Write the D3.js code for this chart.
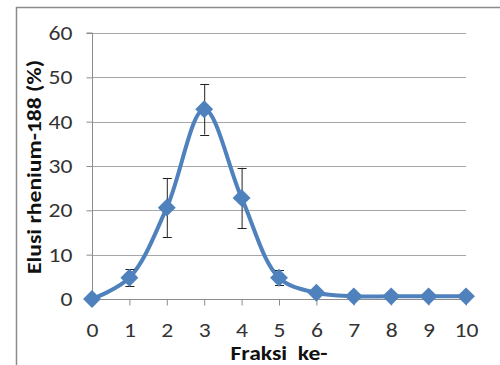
<!DOCTYPE html>
<html>
<head>
<meta charset="utf-8">
<script src="https://cdnjs.cloudflare.com/ajax/libs/d3/7.8.5/d3.min.js"></script>
<style>
  body { margin: 0; background: #fff; }
  svg { display: block; }
</style>
</head>
<body>
<div id="chart"></div>
<script>
/* Data */
const fractions = [0, 1, 2, 3, 4, 5, 6, 7, 8, 9, 10]
const elution = [0, 4.8, 20.6, 42.8, 22.8, 4.8, 1.4, 0.6, 0.6, 0.6, 0.6]
const errors = [0, 1.9, 6.7, 5.7, 6.8, 1.7, 0, 0, 0, 0, 0]
const yTicks = [0, 10, 20, 30, 40, 50, 60]
const xTicks = [0, 1, 2, 3, 4, 5, 6, 7, 8, 9, 10]

/* Constants */
const WIDTH = 500
const HEIGHT = 365
const PLOT = {"left": 92, "right": 466, "top": 33, "bottom": 299}
const LINE_COLOR = "#4F81BD"
const FONT = "Carlito, Calibri, 'Liberation Sans', 'DejaVu Sans', sans-serif"
const STRETCH = 1.18

const svg = d3.select("#chart")
              .append("svg")
              .attr("width", WIDTH)
              .attr("height", HEIGHT);

/* Outer frame */
svg.append("path")
   .attr("d", "M16.5," + HEIGHT + "V7.5H" + WIDTH)
   .attr("fill", "none")
   .attr("stroke", "#8c8c8c")
   .attr("stroke-width", 1.5);

const xScale = d3.scaleLinear().domain([0, 10]).range([PLOT.left, PLOT.right]);
const yScale = d3.scaleLinear().domain([0, 60]).range([PLOT.bottom, PLOT.top]);

/* Gridlines */
svg.append("g")
   .selectAll("line")
   .data(yTicks.filter(d => d > 0))
   .enter()
   .append("line")
   .attr("x1", PLOT.left)
   .attr("x2", PLOT.right)
   .attr("y1", d => Math.round(yScale(d)) + 0.5)
   .attr("y2", d => Math.round(yScale(d)) + 0.5)
   .attr("stroke", "#a6a6a6")
   .attr("stroke-width", 1);

/* Axes */
const yAxis = d3.axisLeft(yScale).tickValues(yTicks).tickSize(6);
const xAxis = d3.axisBottom(xScale).tickValues(xTicks).tickSize(6);
const gy = svg.append("g")
              .attr("transform", "translate(" + (PLOT.left + 0.5) + ",0)")
              .call(yAxis);
const gx = svg.append("g")
              .attr("transform", "translate(0," + (PLOT.bottom + 0.5) + ")")
              .call(xAxis);
[gx, gy].forEach(g => {
  g.select(".domain").attr("stroke", "#8c8c8c").attr("stroke-width", 1);
  g.selectAll(".tick line").attr("stroke", "#8c8c8c");
  g.selectAll("text").attr("font-family", FONT).attr("font-size", 20).attr("fill", "#333");
});
gy.selectAll(".tick text")
  .attr("x", null)
  .attr("transform", "translate(-20,0) scale(" + STRETCH + ",1)");
gx.selectAll(".tick text")
  .attr("y", null)
  .attr("dy", null)
  .attr("transform", "translate(0,37) scale(" + STRETCH + ",1)");
gy.select(".domain").attr("d", "M-6," + PLOT.top + "H0V" + PLOT.bottom + "H-6");
gx.select(".domain").attr("d", "M" + PLOT.left + ",0H" + PLOT.right);

/* Axis titles */
svg.append("text")
   .attr("transform", "translate(279,360) scale(" + STRETCH + ",1)")
   .attr("text-anchor", "middle")
   .attr("font-family", FONT)
   .attr("font-weight", "bold")
   .attr("font-size", 20)
   .attr("fill", "#111")
   .attr("xml:space", "preserve")
   .text("Fraksi  ke-");
svg.append("text")
   .attr("transform", "translate(41,167) rotate(-90) scale(" + STRETCH + ",1)")
   .attr("text-anchor", "middle")
   .attr("font-family", FONT)
   .attr("font-weight", "bold")
   .attr("font-size", 20)
   .attr("fill", "#111")
   .text("Elusi rhenium-188 (%)");

const points = fractions.map((f, i) => ({"x": f, "y": elution[i], "e": errors[i]}));

/* Smoothed line */
const line = d3.line()
               .x(d => xScale(d.x))
               .y(d => yScale(d.y))
               .curve(d3.curveCatmullRom.alpha(0.5));
svg.append("path")
   .datum(points)
   .attr("d", line)
   .attr("fill", "none")
   .attr("stroke", LINE_COLOR)
   .attr("stroke-width", 4)
   .attr("stroke-linejoin", "round");

/* Error bars */
const bars = svg.append("g")
                .selectAll("g")
                .data(points.filter(d => d.e > 0))
                .enter()
                .append("g")
                .attr("stroke", "#222")
                .attr("stroke-width", 1);
bars.append("line")
    .attr("x1", d => xScale(d.x) + 0.5)
    .attr("x2", d => xScale(d.x) + 0.5)
    .attr("y1", d => yScale(d.y + d.e))
    .attr("y2", d => yScale(d.y - d.e));
bars.append("line")
    .attr("x1", d => xScale(d.x) - 4)
    .attr("x2", d => xScale(d.x) + 5)
    .attr("y1", d => Math.round(yScale(d.y + d.e)) + 0.5)
    .attr("y2", d => Math.round(yScale(d.y + d.e)) + 0.5);
bars.append("line")
    .attr("x1", d => xScale(d.x) - 4)
    .attr("x2", d => xScale(d.x) + 5)
    .attr("y1", d => Math.round(yScale(d.y - d.e)) + 0.5)
    .attr("y2", d => Math.round(yScale(d.y - d.e)) + 0.5);

/* Diamond markers */
const diamond = d3.symbol().type(d3.symbolSquare).size(160);
svg.append("g")
   .selectAll("path")
   .data(points)
   .enter()
   .append("path")
   .attr("d", diamond)
   .attr("transform", d => "translate(" + xScale(d.x) + "," + yScale(d.y) + ") rotate(45)")
   .attr("fill", LINE_COLOR);
</script>
</body>
</html>
